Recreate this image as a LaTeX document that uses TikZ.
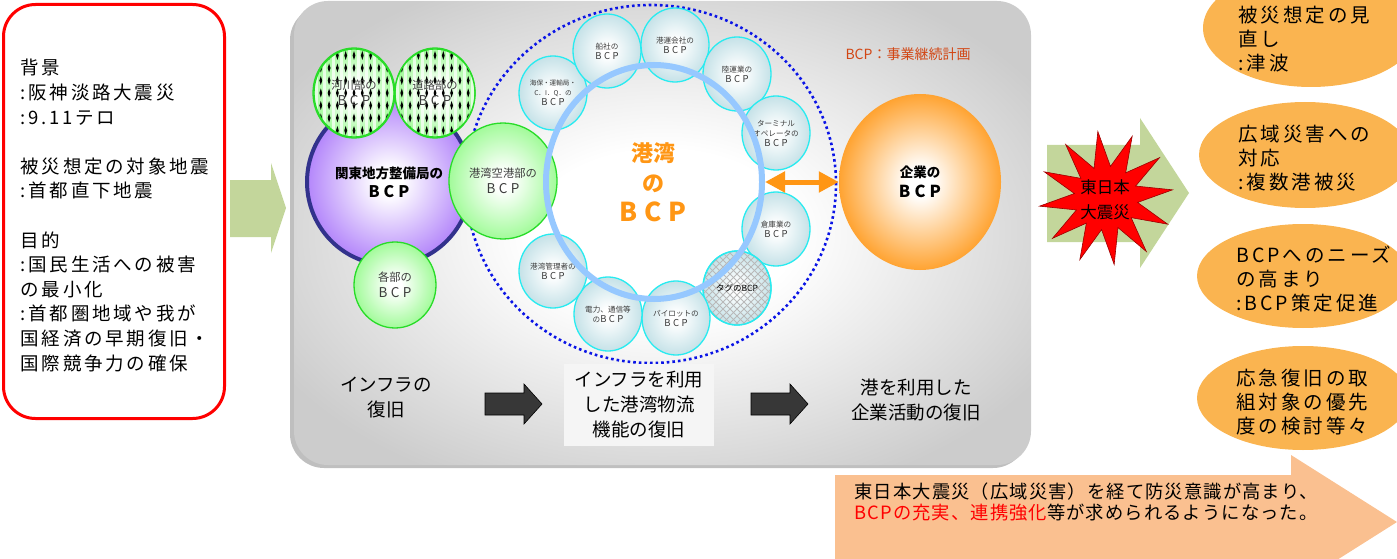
\documentclass[tikz,border=0pt]{standalone}
\usepackage{fontspec}
\setmainfont{Noto Sans CJK JP}
\newfontfamily\widejp[LetterSpace=15]{Noto Sans CJK JP}
\newfontfamily\notejp[LetterSpace=6]{Noto Sans CJK JP}
\usetikzlibrary{shapes.geometric,arrows.meta}

\definecolor{panelgray}{RGB}{204,204,204}
\definecolor{leafgreen}{RGB}{195,214,155}
\definecolor{dotblue}{RGB}{10,20,230}
\definecolor{ringblue}{RGB}{150,200,255}
\definecolor{cyanedge}{RGB}{40,235,240}
\definecolor{cyanfill}{RGB}{178,216,224}
\definecolor{greenedge}{RGB}{40,220,40}
\definecolor{greenfill}{RGB}{140,250,130}
\definecolor{violetfill}{RGB}{172,122,250}
\definecolor{navyedge}{RGB}{50,50,140}
\definecolor{bcporange}{RGB}{255,150,20}
\definecolor{notered}{RGB}{210,70,20}
\definecolor{ovalorange}{RGB}{250,180,80}
\definecolor{peach}{RGB}{250,192,144}
\definecolor{textgray}{RGB}{60,60,60}
\definecolor{blockgray}{RGB}{55,55,55}

\pgfdeclareradialshading{panelshade}{\pgfpointorigin}{color(0bp)=(white); color(9bp)=(white); color(30bp)=(panelgray); color(50bp)=(panelgray)}
\pgfdeclareradialshading{cyanball}{\pgfpointorigin}{color(0bp)=(white); color(4bp)=(white); color(32bp)=(cyanfill); color(50bp)=(cyanfill)}
\pgfdeclareradialshading{greenball}{\pgfpointorigin}{color(0bp)=(white); color(4bp)=(white); color(30bp)=(greenfill); color(50bp)=(greenfill)}
\pgfdeclareradialshading{violetball}{\pgfpointorigin}{color(0bp)=(white); color(4bp)=(white); color(27bp)=(violetfill); color(50bp)=(violetfill)}
\pgfdeclareradialshading{orangeball}{\pgfpointorigin}{color(0bp)=(white); color(4bp)=(white); color(28bp)=(bcporange); color(50bp)=(bcporange)}

\newcommand{\bcp}[1]{{\fontsize{#1}{#1}\selectfont\addfontfeature{LetterSpace=25}BCP}}

\tikzset{
  cyanbcp/.style={ellipse, draw=cyanedge, line width=1.3pt, shading=cyanball, minimum width=68pt, minimum height=74pt, inner sep=0pt, align=center, text=textgray, font=\fontsize{7.6}{10}\selectfont},
  greenbcp/.style={ellipse, draw=greenedge, line width=1.3pt, shading=greenball, inner sep=0pt, align=center, text=textgray, font=\fontsize{11.3}{16}\selectfont},
  oval/.style={ellipse, fill=ovalorange, inner sep=0pt},
  ovaltext/.style={anchor=west, align=left, font={\widejp\fontsize{19.5}{24}\selectfont}},
  flowlabel/.style={align=center, font=\fontsize{18.5}{25}\selectfont},
  blockarrow/.style={fill=blockgray, draw=black, line width=0.6pt}
}

\begin{document}
\begin{tikzpicture}[x=1pt,y=-1pt]
    \useasboundingbox (0,0) rectangle (1397,559);
    \clip (0,0) rectangle (1397,559);
    % background and aims
    \node (context) [draw=red, line width=3pt, rounded corners=32pt, minimum width=221pt, minimum height=414pt, inner sep=0pt] at (114,211.5) {};
    \node (contexttext) [anchor=west, align=left, font={\widejp\fontsize{18.5}{24.6}\selectfont}] at (17,215.5) {背景\\:阪神淡路大震災\\:9.11テロ\\[24.6pt]被災想定の対象地震\\:首都直下地震\\[24.6pt]目的\\:国民生活への被害\\の最小化\\:首都圏地域や我が\\国経済の早期復旧・\\国際競争力の確保};
    \fill[leafgreen] (230,180) -- (271,180) -- (271,163) -- (286,208) -- (271,253) -- (271,237) -- (230,237) -- cycle;

    % panel
    \fill[gray!50, rounded corners=34pt] (290,6) rectangle (1027,468);
    \path[shading=panelshade, rounded corners=34pt] (294,1) rectangle (1031,465);
    \draw[dotblue, line width=2.6pt, dash pattern=on 2.6pt off 3pt] (651,184) ellipse [x radius=185pt, y radius=179pt];

    % bureau circles
    \node (kanto) [ellipse, draw=navyedge, line width=4pt, shading=violetball, minimum width=164pt, minimum height=166pt, inner sep=0pt, align=center, font=\bfseries\fontsize{13.5}{19}\selectfont] at (389,182) {関東地方整備局の\\\bcp{16}};
    \node (river) [greenbcp, minimum width=82pt, minimum height=90pt] at (354,93) {};
    \node (road) [greenbcp, minimum width=80pt, minimum height=90pt] at (435,93) {};
    \foreach \c in {river,road} {
      \begin{scope}
        \clip (\c.center) ellipse [x radius=40pt, y radius=44pt];
        \foreach \i in {-5,...,5} {
          \draw[white, line width=3pt, opacity=0.7, shift={(\c.center)}] (\i*8.3+4.15,-50) -- (\i*8.3+4.15,50);
          \foreach \j in {-4,...,4}
            \fill[shift={(\c.center)}] (\i*8.3,\j*12.5) +(0,-4.5) -- +(1.4,0) -- +(0,4.5) -- +(-1.4,0) -- cycle;
        }
      \end{scope}
      \draw[greenedge, line width=1.3pt] (\c.center) ellipse [x radius=40pt, y radius=44pt];
    }
    \node (rivertext) [align=center, text=textgray, font=\fontsize{11.3}{16}\selectfont] at (river) {河川部の\\\bcp{13.5}};
    \node (roadtext) [align=center, text=textgray, font=\fontsize{11.3}{16}\selectfont] at (road) {道路部の\\\bcp{13.5}};
    \node (portdiv) [greenbcp, minimum width=108pt, minimum height=116pt] at (503,181) {港湾空港部の\\\bcp{13.5}};
    \node (branch) [greenbcp, minimum width=82pt, minimum height=86pt] at (395,285) {各部の\\\bcp{13.5}};

    % port players
    \node (coast) [cyanbcp, font=\fontsize{6.6}{10}\selectfont] at (553,93) {海保・運輸局・\\C．I．Q．の\\\bcp{9.5}};
    \node (shipping) [cyanbcp] at (607,51) {船社の\\\bcp{9.5}};
    \node (stevedore) [cyanbcp] at (675,45) {港運会社の\\\bcp{9.5}};
    \node (trucking) [cyanbcp] at (737,74) {陸運業の\\\bcp{9.5}};
    \node (terminal) [cyanbcp] at (776,133) {ターミナル\\オペレータの\\\bcp{9.5}};
    \node (warehouse) [cyanbcp] at (776,229) {倉庫業の\\\bcp{9.5}};
    \node (tug) [cyanbcp] at (737,288) {};
    \begin{scope}
      \clip (tug.center) ellipse [x radius=34pt, y radius=37pt];
      \foreach \k in {-12,...,12} {
        \draw[gray!55, line width=0.8pt, shift={(tug.center)}] (\k*7-40,-40) -- (\k*7+40,40);
        \draw[gray!55, line width=0.8pt, shift={(tug.center)}] (\k*7-40,40) -- (\k*7+40,-40);
      }
    \end{scope}
    \draw[cyanedge, line width=1.3pt] (tug.center) ellipse [x radius=34pt, y radius=37pt];
    \node (tugtext) [font=\fontsize{8.5}{10}\selectfont] at (tug) {タグのBCP};
    \node (pilot) [cyanbcp] at (676,318) {パイロットの\\\bcp{9.5}};
    \node (utility) [cyanbcp] at (608,314) {電力、通信等\\の\bcp{9.5}};
    \node (manager) [cyanbcp] at (553,271) {港湾管理者の\\\bcp{9.5}};

    \node (ring) [ellipse, draw=ringblue, line width=6pt, minimum width=216pt, minimum height=234pt, inner sep=0pt] at (654,182) {};
    \node (portbcp) [text=bcporange, align=center, font=\bfseries\fontsize{22}{30}\selectfont] at (653,182) {港湾\\の\\\bcp{26}};

    % companies
    \node (company) [ellipse, shading=orangeball, minimum width=162pt, minimum height=176pt, inner sep=0pt, align=center, font=\bfseries\fontsize{13.5}{20}\selectfont] at (920,182) {企業の\\\bcp{16.5}};
    \draw[{Triangle[width=20pt,length=20pt]}-{Triangle[width=20pt,length=20pt]}, line width=5pt, bcporange] (ring.east) -- (company.west);
    \node (bcpnote) [text=notered, font=\fontsize{14}{16}\selectfont] at (908,54) {BCP：事業継続計画};

    % recovery steps
    \node (infra) [flowlabel] at (386,397.5) {インフラの\\復旧};
    \node (logistics) [flowlabel, fill=white!92!gray, minimum width=150pt, minimum height=82pt] at (639,405) {インフラを利用\\した港湾物流\\機能の復旧};
    \node (business) [flowlabel] at (916,400) {港を利用した\\企業活動の復旧};
    \draw[blockarrow] (485,393) -- (524,393) -- (524,384) -- (542,404) -- (524,424) -- (524,415) -- (485,415) -- cycle;
    \draw[blockarrow] (751,393) -- (790,393) -- (790,384) -- (808,404) -- (790,424) -- (790,415) -- (751,415) -- cycle;

    % after the 2011 earthquake
    \fill[leafgreen] (1047,145) -- (1140,145) -- (1140,118) -- (1189,193) -- (1140,268) -- (1140,242) -- (1047,242) -- cycle;
    \node (quake) [star, star points=12, star point ratio=2.1, fill=red, draw=red!60!black, line width=0.6pt, minimum size=134pt, inner sep=0pt, rotate=7] at (1106,198) {};
    \node (quaketext) [align=center, font=\fontsize{16.5}{25}\selectfont] at (1105,200) {東日本\\大震災};

    \fill[peach] (835,475) -- (1291,475) -- (1291,455) -- (1397,522) -- (1291,589) -- (1291,569) -- (835,569) -- cycle;
    \node (lesson) [anchor=west, align=left, font={\notejp\fontsize{18.3}{21}\selectfont}] at (851,502) {東日本大震災（広域災害）を経て防災意識が高まり、\\\textcolor{red}{BCPの充実、連携強化}等が求められるようになった。};

    \node (review) [oval, minimum width=216pt, minimum height=118pt] at (1311,28) {};
    \node (reviewtext) [ovaltext] at (1235,39) {被災想定の見\\直し\\:津波};
    \node (wide) [oval, minimum width=212pt, minimum height=106pt] at (1305,155) {};
    \node (widetext) [ovaltext] at (1235,158) {広域災害への\\対応\\:複数港被災};
    \node (needs) [oval, minimum width=212pt, minimum height=104pt] at (1303,276) {};
    \node (needstext) [ovaltext] at (1233,279) {BCPへのニーズ\\の高まり\\:BCP策定促進};
    \node (priority) [oval, minimum width=212pt, minimum height=104pt] at (1303,398) {};
    \node (prioritytext) [ovaltext] at (1233,402) {応急復旧の取\\組対象の優先\\度の検討等々};
\end{tikzpicture}
\end{document}
